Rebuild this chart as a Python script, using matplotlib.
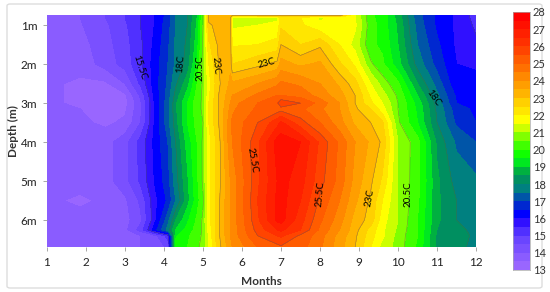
import numpy as np
import matplotlib
matplotlib.use("Agg")
import matplotlib.pyplot as plt
from matplotlib.colors import ListedColormap, BoundaryNorm
from matplotlib.patches import FancyBboxPatch

plt.rcParams["font.family"] = ["Lato", "DejaVu Sans"]

months = [1, 1.85, 2.5, 3, 3.4, 3.75, 4.1, 4.3, 4.6, 4.85, 5, 5.15, 5.4, 5.7, 5.75, 6.4, 6.9, 7, 7.5, 8, 8.5, 8.9, 9.3, 9.6, 10, 10.5, 11, 11.5, 12]
depths = [0.74, 0.8, 1, 1.5, 2, 2.5, 2.8, 3, 3.15, 3.5, 4, 5, 5.5, 6, 6.25, 6.4, 6.7]

t_074 = [13.9, 14, 14.5, 15, 15.5, 16, 16.7, 17.5, 18, 19, 20.5, 23.2, 23.3, 23.4, 23.4, 23.4, 23.4, 23.4, 23.4, 23.4, 23.4, 21.5, 20.1, 19.8, 18.8, 17.2, 16.4, 15.9, 15.3]
t_080 = [13.9, 14, 14.5, 15, 15.5, 16, 16.7, 17.5, 18, 19, 20.5, 23.2, 23.3, 23.4, 21.2, 21.3, 21.4, 22.2, 22, 21.4, 21.7, 21.5, 20.1, 19.8, 18.8, 17.2, 16.4, 15.9, 15.3]
t_100 = [13.7, 13.95, 14.4, 14.9, 15.5, 16, 16.8, 17.5, 18, 19.1, 20.5, 22.9, 23.2, 23.4, 21.4, 21.5, 21.6, 22.4, 22.1, 21.6, 21.8, 21.6, 20.2, 19.8, 18.9, 17.3, 16.4, 15.9, 15.4]
t_150 = [13.6, 13.8, 14.3, 14.8, 15.4, 16.1, 16.9, 17.6, 18.1, 19.3, 20.6, 22.4, 23.1, 23.4, 21.95, 22, 22.2, 23, 22.5, 22.9, 22, 21.3, 20.1, 19.9, 19, 17.5, 16.6, 15.9, 15.6]
t_200 = [13.6, 13.7, 14.2, 14.7, 15.4, 16.2, 17, 17.6, 18.2, 19.6, 20.7, 22, 23, 23.4, 22.5, 22.85, 23.15, 23.7, 23.4, 23.6, 22.6, 21.9, 20.6, 20.1, 19.2, 17.8, 16.8, 16, 15.9]
t_250 = [13.6, 13.4, 13.4, 14, 15.1, 16.2, 17.1, 17.9, 18.8, 20, 20.6, 21.8, 22.9, 23.6, 23.6, 24, 24.4, 24.6, 24.4, 24, 23.4, 22.7, 21.5, 20.8, 20.1, 18.5, 17.3, 16.1, 16.2]
t_280 = [13.6, 13.4, 13.3, 13.4, 14.6, 16.1, 17.2, 18.2, 19.2, 20.2, 20.6, 21.9, 23, 23.8, 24, 24.6, 25, 25, 24.8, 24.3, 23.7, 23, 21.9, 21.2, 20.4, 19, 17.6, 16.4, 16.3]
t_300 = [13.6, 13.4, 13.2, 13.3, 14.4, 16, 17.3, 18.4, 19.5, 20.3, 20.6, 22, 23, 24, 24.3, 25, 25.4, 25.9, 25.5, 24.8, 24, 23, 22.1, 21.5, 20.5, 19.3, 17.8, 16.5, 16.3]
t_315 = [13.7, 13.5, 13.3, 13.4, 14.4, 16, 17.3, 18.4, 19.5, 20.3, 20.6, 22, 23, 24.1, 24.4, 25.1, 25.2, 25.3, 25.1, 24.6, 24, 23.1, 22.5, 21.7, 20.5, 19.4, 17.9, 16.7, 16.4]
t_350 = [13.7, 13.6, 13.4, 13.6, 14.5, 16, 17.3, 18.3, 19.5, 20.2, 20.5, 22, 23, 24.3, 24.6, 25.5, 26.3, 26.6, 25.7, 25, 24.2, 23.4, 23, 22.6, 20.6, 19.5, 18, 16.9, 16.5]
t_400 = [13.7, 13.7, 13.8, 14.3, 15.2, 16.1, 17, 18, 19.2, 20, 20.6, 21.8, 22.8, 24.3, 24.5, 25.9, 27.2, 27.3, 27, 25.9, 24.9, 24, 23.4, 22.9, 21, 20.2, 18.4, 17.4, 17]
t_500 = [13.7, 13.7, 13.8, 14.3, 15.1, 16, 16.8, 17.8, 18.9, 19.9, 20.6, 21.8, 22.8, 24, 24.2, 25.9, 27, 27.2, 26.7, 25.7, 24.8, 23.8, 23.1, 22.4, 20.95, 20.2, 18.6, 17.8, 17.6]
t_550 = [13.6, 13.4, 13.6, 13.9, 14.6, 15.8, 16.6, 17.5, 18.8, 19.8, 20.4, 21.8, 22.9, 24, 24.2, 26, 27.1, 27.2, 26.5, 25.4, 24.5, 23.6, 22.9, 22, 21, 20.1, 18.6, 18, 17.7]
t_600 = [13.7, 13.7, 13.7, 13.8, 14.4, 15.8, 17.3, 18.5, 19.4, 20.1, 20.6, 21.8, 22.9, 24, 24.2, 25.9, 27.1, 27.2, 26.2, 25.1, 24.2, 23.3, 22.8, 21.7, 21, 20, 18.6, 18, 17.8]
t_625 = [13.7, 13.7, 13.7, 13.85, 14.7, 16.2, 17.7, 19, 19.7, 20.2, 20.6, 21.7, 22.9, 24, 24.2, 25.7, 26.5, 26.6, 26, 24.9, 24, 23.2, 22.3, 21.6, 20.9, 20, 18.5, 18.1, 17.9]
t_640 = [13.7, 13.7, 13.7, 13.8, 14, 14.3, 15.2, 19.4, 19.9, 20.3, 20.6, 21.6, 22.9, 24, 24.2, 25.5, 26, 26.1, 25.4, 24.7, 23.8, 23.1, 22.2, 21.6, 20.8, 20, 18.4, 18.2, 17.9]
t_670 = [13.7, 13.7, 13.7, 13.8, 14, 14.1, 14.6, 19.8, 20, 20.4, 20.7, 21.5, 22.8, 23.8, 24, 25, 25.3, 25.4, 25.2, 24.6, 23.7, 23, 22, 21.3, 20.8, 19.9, 18.4, 18.1, 17.9]

temps = np.array([t_074, t_080, t_100, t_150, t_200, t_250, t_280, t_300, t_315, t_350, t_400, t_500, t_550, t_600, t_625, t_640, t_670])

# one colour per half degree, 13 to 28
band_colors = [
    "#9966ff", "#8a5cff", "#7a50ff", "#6a45ff", "#5030ff", "#3010ff", "#0000ff", "#0028d0",
    "#0055a8", "#008080", "#008f60", "#00b040", "#00e820", "#10ff00", "#40ff00", "#80ff00",
    "#ccff00", "#ffff00", "#ffe600", "#ffd000", "#ffb400", "#ff9e00", "#ff8800", "#ff7000",
    "#ff5c00", "#ff4400", "#ff3000", "#ff2000", "#ff1000", "#ff0000",
]
levels = np.arange(13, 28.5, 0.5)
cmap = ListedColormap(band_colors)
norm = BoundaryNorm(levels, cmap.N)

line_levels = [15.5, 18, 20.5, 23, 25.5]
# label text, month, depth, rotation
contour_labels = [
    ("15.5C", 3.38, 2.08, -72),
    ("18C", 4.41, 2.0, 85),
    ("20.5C", 4.92, 2.1, 90),
    ("23C", 5.33, 2.03, -85),
    ("23C", 6.62, 1.97, 15),
    ("18C", 10.92, 2.87, -55),
    ("25.5C", 6.25, 4.46, -80),
    ("25.5C", 8.0, 5.33, 85),
    ("23C", 9.26, 5.44, 80),
    ("20.5C", 10.26, 5.33, 90),
]

fig = plt.figure(figsize=(5.5, 2.92), dpi=100)
frame = FancyBboxPatch((7 / 550, 4 / 292), 535 / 550, 284 / 292, boxstyle="round,pad=0,rounding_size=0.006",
                       transform=fig.transFigure, fc="white", ec="#dddddd", lw=1, zorder=-5)
fig.add_artist(frame)

ax = fig.add_axes([47 / 550, 45 / 292, 429 / 550, 232 / 292])
ax.patch.set_alpha(0)
ax.contourf(months, depths, temps, levels=levels, cmap=cmap, norm=norm, extend="both")
ax.contour(months, depths, temps, levels=line_levels, colors="#555555", linewidths=0.4, alpha=0.6)
ax.set_xlim(1, 12)
ax.set_ylim(6.69, 0.74)
ax.set_xticks(range(1, 13))
ax.set_yticks(range(1, 7), labels=[f"{d}m" for d in range(1, 7)])
ax.tick_params(labelsize=8.5, length=3, width=0.6, color="#999999", labelcolor="#222222", pad=4)
ax.spines[["top", "right", "left", "bottom"]].set_visible(False)
ax.set_xlabel("Months", fontsize=8.5, weight="bold", color="#333333", labelpad=6)
ax.set_ylabel("Depth (m)", fontsize=8.5, weight="bold", color="#333333", labelpad=1)

for s, m, d, rot in contour_labels:
    ax.text(m, d, s, fontsize=7, color="#000000", rotation=rot, ha="center", va="center")

cax = fig.add_axes([513 / 550, 22 / 292, 17 / 550, 258 / 292])
cax.pcolormesh([0, 1], levels, np.array(levels[:-1]).reshape(-1, 1), cmap=cmap, norm=norm)
cax.set_xticks([])
cax.yaxis.tick_right()
cax.set_yticks(range(13, 29))
cax.tick_params(labelsize=8, length=0, labelcolor="#333333", pad=2)
for s in cax.spines.values():
    s.set_color("#aaaaaa")
    s.set_linewidth(0.5)

fig.savefig("out.png", dpi=100)
